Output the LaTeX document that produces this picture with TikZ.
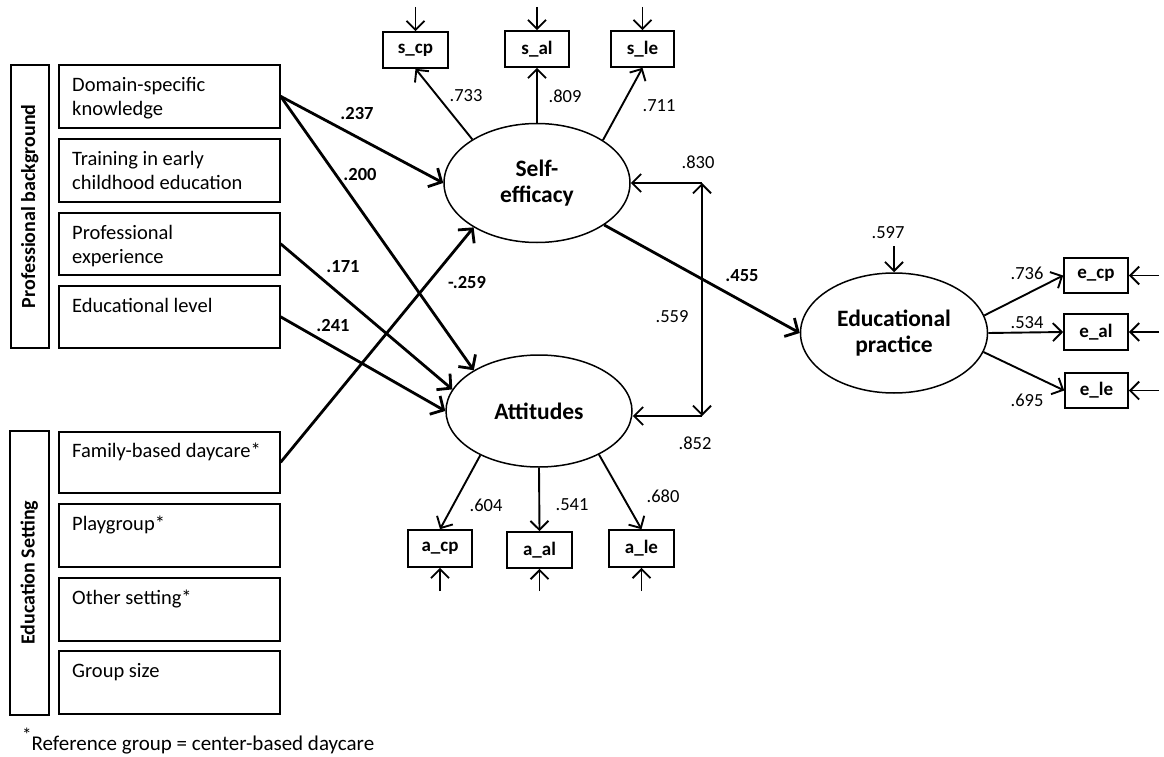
\documentclass[tikz,border=0pt]{standalone}
\usepackage{fontspec}
\setmainfont{Carlito}
\usetikzlibrary{arrows.meta,shapes.geometric,calc}
\begin{document}
\begin{tikzpicture}[x=1pt,y=-1pt,
  lbox/.style={draw,line width=1.6pt,inner sep=0pt,anchor=north west,minimum width=221pt},
  ltxt/.style={anchor=north west,inner sep=0pt,font=\fontsize{20.5}{23.5}\selectfont},
  gbox/.style={draw,line width=1.6pt,inner sep=0pt,anchor=north west,minimum width=38pt},
  glab/.style={rotate=90,inner sep=0pt,font=\bfseries\fontsize{20}{24}\selectfont},
  lat/.style={draw,ellipse,line width=1.5pt,inner sep=0pt,align=center,font=\bfseries\fontsize{23.5}{25.5}\selectfont},
  obs/.style={draw,rectangle,line width=1.6pt,inner sep=0pt,font=\bfseries\fontsize{19}{22}\selectfont},
  num/.style={font=\fontsize{18.5}{21}\selectfont,inner sep=0pt},
  bnum/.style={font=\bfseries\fontsize{18.5}{21}\selectfont,inner sep=0pt},
  arr/.style={line width=1.9pt,-{Straight Barb[length=9pt,width=18pt]}},
  thk/.style={line width=2.8pt,-{Straight Barb[length=10pt,width=21pt]}},
  dbl/.style={line width=1.9pt,{Straight Barb[length=9pt,width=18pt]}-{Straight Barb[length=9pt,width=18pt]}}
]
\useasboundingbox (0,0) rectangle (1164,757);

% group label boxes
\node[gbox,minimum height=283pt] (g1) at (10,64) {};
\node[glab] (g1t) at (g1.center) {Professional background};
\node[gbox,minimum height=284pt,minimum width=39pt] (g2) at (9,430) {};
\node[glab] (g2t) at (g2.center) {Education Setting};

% predictor boxes
\node[lbox,minimum height=63pt] (k1) at (58,64) {};
\node[lbox,minimum height=63pt] (k2) at (58,138) {};
\node[lbox,minimum height=62pt] (k3) at (58,212) {};
\node[lbox,minimum height=62pt] (k4) at (58,285) {};
\node[lbox,minimum height=61pt] (f1) at (58,431) {};
\node[lbox,minimum height=63pt] (f2) at (58,503) {};
\node[lbox,minimum height=63pt] (f3) at (58,577) {};
\node[lbox,minimum height=63pt] (f4) at (58,650) {};

\node[ltxt] (k1t) at ($(k1.north west)+(14,11)$) {\parbox[t]{205pt}{\strut Domain-specific\\knowledge}};
\node[ltxt] (k2t) at ($(k2.north west)+(14,11)$) {\parbox[t]{205pt}{\strut Training in early\\childhood education}};
\node[ltxt] (k3t) at ($(k3.north west)+(14,11)$) {\parbox[t]{205pt}{\strut Professional\\experience}};
\node[ltxt] (k4t) at ($(k4.north west)+(14,11)$) {\parbox[t]{205pt}{\strut Educational level}};
\node[ltxt] (f1t) at ($(f1.north west)+(14,10)$) {\parbox[t]{205pt}{\strut Family-based daycare*}};
\node[ltxt] (f2t) at ($(f2.north west)+(14,11)$) {\parbox[t]{205pt}{\strut Playgroup*}};
\node[ltxt] (f3t) at ($(f3.north west)+(14,11)$) {\parbox[t]{205pt}{\strut Other setting*}};
\node[ltxt] (f4t) at ($(f4.north west)+(14,11)$) {\parbox[t]{205pt}{\strut Group size}};

% latent variables
\node[lat,minimum width=186pt,minimum height=119pt] (SE) at (537,183) {Self-\\efficacy};
\node[lat,minimum width=186pt,minimum height=112pt] (AT) at (539,411) {Attitudes};
\node[lat,minimum width=187pt,minimum height=120pt] (EP) at (894,333) {Educational\\practice};

% indicators
\node[obs,minimum width=65pt,minimum height=36pt] (scp) at (415.5,50) {s\_cp};
\node[obs,minimum width=64pt,minimum height=36pt] (sal) at (537,49) {s\_al};
\node[obs,minimum width=63pt,minimum height=36pt] (sle) at (642.5,49) {s\_le};
\node[obs,minimum width=64pt,minimum height=37pt] (acp) at (440,548.5) {a\_cp};
\node[obs,minimum width=65pt,minimum height=36pt] (aal) at (539.5,550) {a\_al};
\node[obs,minimum width=65pt,minimum height=37pt] (ale) at (641.5,548.5) {a\_le};
\node[obs,minimum width=64pt,minimum height=35pt] (ecp) at (1096,275.5) {e\_cp};
\node[obs,minimum width=64pt,minimum height=36pt] (eal) at (1096,332) {e\_al};
\node[obs,minimum width=63pt,minimum height=35pt] (ele) at (1096.5,390.5) {e\_le};

% error term origins
\coordinate (uscp) at (415.5,7);
\coordinate (usal) at (537,7);
\coordinate (usle) at (642.5,7);
\coordinate (uacp) at (440,591);
\coordinate (uaal) at (539.5,591);
\coordinate (uale) at (641.5,591);
\coordinate (uecp) at (1159,275.5);
\coordinate (ueal) at (1159,332);
\coordinate (uele) at (1159,390.5);
\coordinate (uep) at (894,246);
\coordinate (r1) at (702,183);
\coordinate (r2) at (702,416);

% structural paths
\draw[thk] (k1.east) -- (SE.west);
\draw[thk] (k1.east) -- (AT.148);
\draw[thk] (k3.east) -- (AT.166);
\draw[thk] (k4.east) -- (AT.west);
\draw[thk] (f1.east) -- (SE.215);
\draw[thk] (SE.328) -- (EP.west);

% measurement paths
\draw[arr] (SE.146) -- (scp.south);
\draw[arr] (SE.north) -- (sal.south);
\draw[arr] (SE.33) -- (sle.south);
\draw[arr] (AT.217) -- (acp.north);
\draw[arr] (AT.south) -- (aal.north);
\draw[arr] (AT.324) -- (ale.north);
\draw[arr] (EP.11) -- (ecp.west);
\draw[arr] (EP.east) -- (eal.west);
\draw[arr] (EP.348) -- (ele.west);

% errors
\draw[arr] (uscp) -- (scp.north);
\draw[arr] (usal) -- (sal.north);
\draw[arr] (usle) -- (sle.north);
\draw[arr] (uacp) -- (acp.south);
\draw[arr] (uaal) -- (aal.south);
\draw[arr] (uale) -- (ale.south);
\draw[arr] (uecp) -- (ecp.east);
\draw[arr] (ueal) -- (eal.east);
\draw[arr] (uele) -- (ele.east);
\draw[arr] (uep) -- (EP.north);
\draw[arr] (r1) -- (SE.east);
\draw[arr] (r2) -- (r2 -| AT.east);
\draw[dbl] (r1) -- (r2);

% coefficients
\node[bnum] (c1) at (357,113) {.237};
\node[bnum] (c2) at (360,174) {.200};
\node[bnum] (c3) at (343,267) {.171};
\node[bnum] (c4) at (333,325) {.241};
\node[bnum] (c5) at (467,282) {-.259};
\node[bnum] (c6) at (742,276) {.455};
\node[num] (l1) at (466,96) {.733};
\node[num] (l2) at (565,96) {.809};
\node[num] (l3) at (659,106) {.711};
\node[num] (l4) at (698,162) {.830};
\node[num] (l5) at (672,317) {.559};
\node[num] (l6) at (695,443) {.852};
\node[num] (l7) at (486,505) {.604};
\node[num] (l8) at (572,505) {.541};
\node[num] (l9) at (663,496) {.680};
\node[num] (l10) at (888,233) {.597};
\node[num] (l11) at (1027,273) {.736};
\node[num] (l12) at (1027,323) {.534};
\node[num] (l13) at (1027,400) {.695};

% footnote
\node[anchor=base west,inner sep=0pt,font=\fontsize{21}{24}\selectfont] (fn) at (22,750) {\raisebox{9pt}{\fontsize{19}{19}\selectfont *}Reference group = center-based daycare};
\end{tikzpicture}
\end{document}
